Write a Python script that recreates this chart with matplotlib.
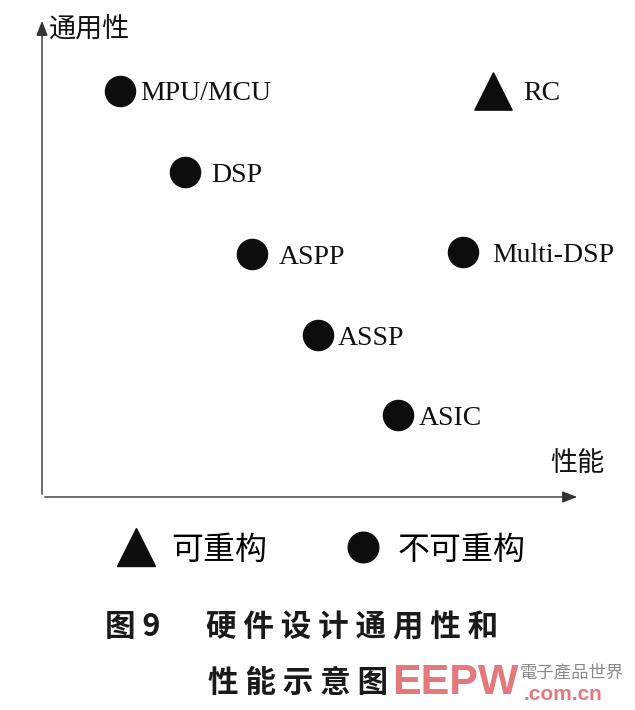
import matplotlib
matplotlib.use("Agg")
import matplotlib.pyplot as plt
from matplotlib.lines import Line2D

plt.rcParams["font.family"] = ["Noto Sans CJK SC", "DejaVu Sans"]

# hardware types: performance (x) vs generality (y), 0-10 schematic scale
names = ["MPU/MCU", "DSP", "ASPP", "Multi-DSP", "ASSP", "ASIC"]
perf = [1.45, 2.66, 3.90, 7.83, 5.13, 6.62]
general = [8.48, 6.78, 5.07, 5.11, 3.38, 1.71]

reconf_names = ["RC"]
reconf_perf = [8.38]
reconf_general = [8.48]

x_label = "性能"
y_label = "通用性"
legend_labels = ["可重构", "不可重构"]
caption_1 = "图 9"
caption_2 = "硬 件 设 计 通 用 性 和"
caption_3 = "性 能 示 意 图"

# label gap from marker, in points (layout only)
label_dx = [14.5, 18.5, 19.5, 21, 14.5, 14.5, 21.5]

fig = plt.figure(figsize=(6.35, 7.10), dpi=100)
ax = fig.add_axes([42 / 635, 213 / 710, 538 / 635, 479 / 710])
ax.set_xlim(0, 10)
ax.set_ylim(0, 10)
ax.axis("off")

# axes with arrows
arrow = dict(arrowstyle="-|>,head_length=0.9,head_width=0.35", color="#333333", lw=1.0)
ax.annotate("", xy=(0, 1), xytext=(0, 0), xycoords="axes fraction", arrowprops=arrow)
ax.annotate("", xy=(1, 0), xytext=(0, 0), xycoords="axes fraction", arrowprops=arrow)
ax.text(0.013, 0.975, y_label, transform=ax.transAxes, fontsize=19.5,
        ha="left", va="center", color="#111111")
ax.text(0.995, 0.07, x_label, transform=ax.transAxes, fontsize=19.5,
        ha="center", va="center", color="#111111")

ax.scatter(perf, general, s=470, marker="o", color="#0d0d0d", zorder=3)
ax.scatter(reconf_perf, reconf_general, s=720, marker="^", color="#0d0d0d", zorder=3)

all_names = names + reconf_names
all_x = perf + reconf_perf
all_y = general + reconf_general
for n, x, y, dx in zip(all_names, all_x, all_y, label_dx):
    ax.annotate(n, (x, y), xytext=(dx, 0), textcoords="offset points",
                fontsize=20, family="Liberation Serif", ha="left",
                va="center_baseline", color="#111111")

handles = [
    Line2D([], [], marker="^", ls="none", color="#0d0d0d", markersize=27),
    Line2D([], [], marker="o", ls="none", color="#0d0d0d", markersize=22),
]
fig.legend(handles, legend_labels, loc="center", bbox_to_anchor=(0.506, 0.226),
           ncol=2, frameon=False, prop={"size": 23}, handlelength=1.2,
           handletextpad=0.5, columnspacing=2.4)

# caption
fig.text(105 / 635, 1 - 627 / 710, caption_1, fontsize=22, weight="bold",
         ha="left", va="center", color="#1a1a1a")
fig.text(206 / 635, 1 - 627 / 710, caption_2, fontsize=22, weight="bold",
         ha="left", va="center", color="#1a1a1a")
fig.text(208 / 635, 1 - 683 / 710, caption_3, fontsize=22, weight="bold",
         ha="left", va="center", color="#1a1a1a")

# watermark logo
fig.text(392 / 635, 1 - 683 / 710, "EEPW", fontsize=31, weight="bold",
         family=["Liberation Sans", "DejaVu Sans"], color="#e3787d",
         ha="left", va="center", zorder=5)
fig.text(520 / 635, 1 - 672 / 710, "電子產品世界", fontsize=12.5,
         family=["Noto Sans CJK TC", "DejaVu Sans"], color="#8a8a8a",
         ha="left", va="center")
fig.text(524 / 635, 1 - 694 / 710, ".com.cn", fontsize=15, weight="bold",
         family=["Liberation Sans", "DejaVu Sans"], color="#e3787d",
         ha="left", va="center")

fig.savefig("out.png", dpi=100, facecolor="white")
